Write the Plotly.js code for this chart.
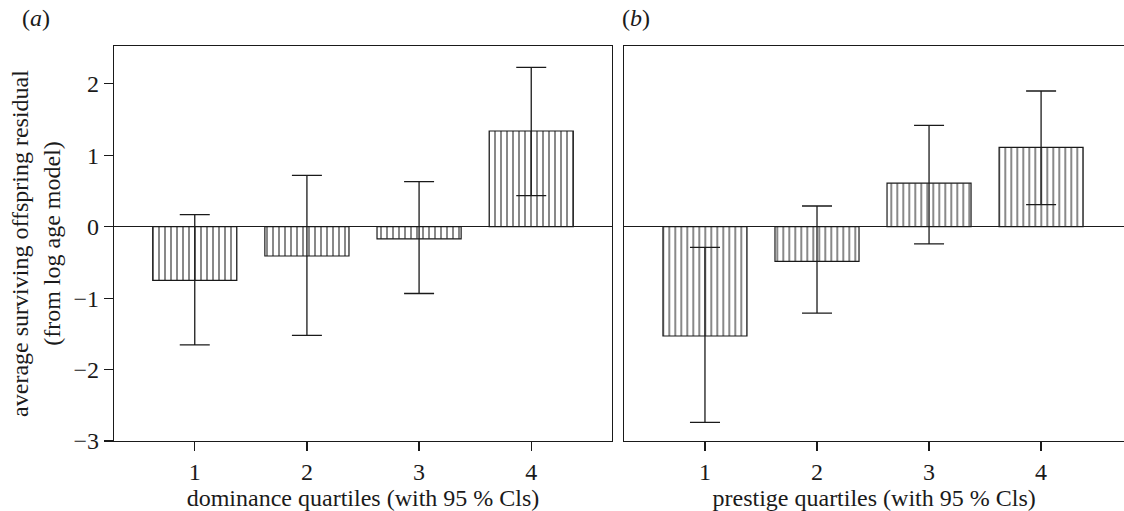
<!DOCTYPE html>
<html>
<head>
<meta charset="utf-8">
<script src="https://cdn.plot.ly/plotly-3.0.1.min.js"></script>
<style>html,body{margin:0;padding:0;background:#fff;}#chart{width:1124px;height:511px;}</style>
</head>
<body>
<div id="chart"></div>
<script>
// Data
const quartiles = [1, 2, 3, 4];
const tickLabels = ['1', '2', '3', '4'];
const dominanceMean = [-0.75, -0.41, -0.17, 1.34];
const dominanceUpper = [0.17, 0.72, 0.63, 2.23];
const dominanceLower = [-1.655, -1.52, -0.935, 0.435];
const prestigeMean = [-1.53, -0.485, 0.61, 1.11];
const prestigeUpper = [-0.29, 0.29, 1.42, 1.90];
const prestigeLower = [-2.74, -1.21, -0.24, 0.31];
const yTicks = [-3, -2, -1, 0, 1, 2];
const yTickText = ['\u22123', '\u22122', '\u22121', '0', '1', '2'];

const FONT = 'Liberation Serif';
const FS = 24;
const TXT = '#1a1a1a';

function barTrace(mean, upper, lower, xa, ya) {
  return {
    type: 'bar',
    x: quartiles,
    y: mean,
    xaxis: xa,
    yaxis: ya,
    width: 0.75,
    marker: {
      color: '#ffffff',
      line: {color: '#1a1a1a', width: 1.2},
      pattern: {shape: '|', fgcolor: '#888888', bgcolor: '#ffffff', size: 6, solidity: 0.33}
    },
    error_y: {
      type: 'data',
      symmetric: false,
      array: upper.map((u, i) => u - mean[i]),
      arrayminus: lower.map((l, i) => mean[i] - l),
      color: '#1a1a1a',
      thickness: 1.3,
      width: 15
    },
    showlegend: false,
    hoverinfo: 'skip'
  };
}

const data = [
  barTrace(dominanceMean, dominanceUpper, dominanceLower, 'x', 'y'),
  barTrace(prestigeMean, prestigeUpper, prestigeLower, 'x2', 'y2')
];

const common = {
  showline: true, linecolor: '#1a1a1a', linewidth: 1.2, mirror: true,
  showgrid: false, zeroline: false,
  tickfont: {family: FONT, size: FS, color: TXT}
};

const yRange = [-3, 2.53];

const layout = {
  width: 1124, height: 511,
  margin: {l: 0, r: 0, t: 46, b: 70},
  paper_bgcolor: '#ffffff', plot_bgcolor: '#ffffff',
  font: {family: FONT, color: TXT},
  xaxis: Object.assign({}, common, {
    domain: [114 / 1124, 612 / 1124], range: [0.28, 4.72], anchor: 'y',
    tickvals: quartiles, ticktext: tickLabels, ticks: 'outside', ticklen: 9, tickwidth: 1.2, tickcolor: '#1a1a1a',
    title: {text: 'dominance quartiles (with 95 % Cls)', font: {family: FONT, size: FS, color: TXT}, standoff: 1}
  }),
  yaxis: Object.assign({}, common, {
    domain: [0, 1], range: yRange, anchor: 'x',
    zeroline: true, zerolinecolor: '#1a1a1a', zerolinewidth: 1.2,
    tickvals: yTicks, ticktext: yTickText, ticks: 'outside', ticklen: 9, tickwidth: 1.2, tickcolor: '#1a1a1a',
    title: {text: 'average surviving offspring residual<br>(from log age model)', font: {family: FONT, size: FS, color: TXT}, standoff: 6}
  }),
  xaxis2: Object.assign({}, common, {
    domain: [624.3 / 1124, 1], range: [0.28, 4.74], anchor: 'y2',
    tickvals: quartiles, ticktext: tickLabels, ticks: 'outside', ticklen: 9, tickwidth: 1.2, tickcolor: '#1a1a1a',
    title: {text: 'prestige quartiles (with 95 % Cls)', font: {family: FONT, size: FS, color: TXT}, standoff: 1}
  }),
  yaxis2: Object.assign({}, common, {
    domain: [0, 1], range: yRange, anchor: 'x2',
    zeroline: true, zerolinecolor: '#1a1a1a', zerolinewidth: 1.2,
    showticklabels: false, ticks: ''
  }),
  annotations: [
    {text: '(<i>a</i>)', xref: 'paper', yref: 'paper', x: 20 / 1124, y: 1, yshift: 28, xanchor: 'left', yanchor: 'middle', showarrow: false, font: {family: FONT, size: FS, color: TXT}},
    {text: '(<i>b</i>)', xref: 'paper', yref: 'paper', x: 620 / 1124, y: 1, yshift: 28, xanchor: 'left', yanchor: 'middle', showarrow: false, font: {family: FONT, size: FS, color: TXT}}
  ]
};

Plotly.newPlot('chart', data, layout, {displayModeBar: false, staticPlot: true});
</script>
</body>
</html>
